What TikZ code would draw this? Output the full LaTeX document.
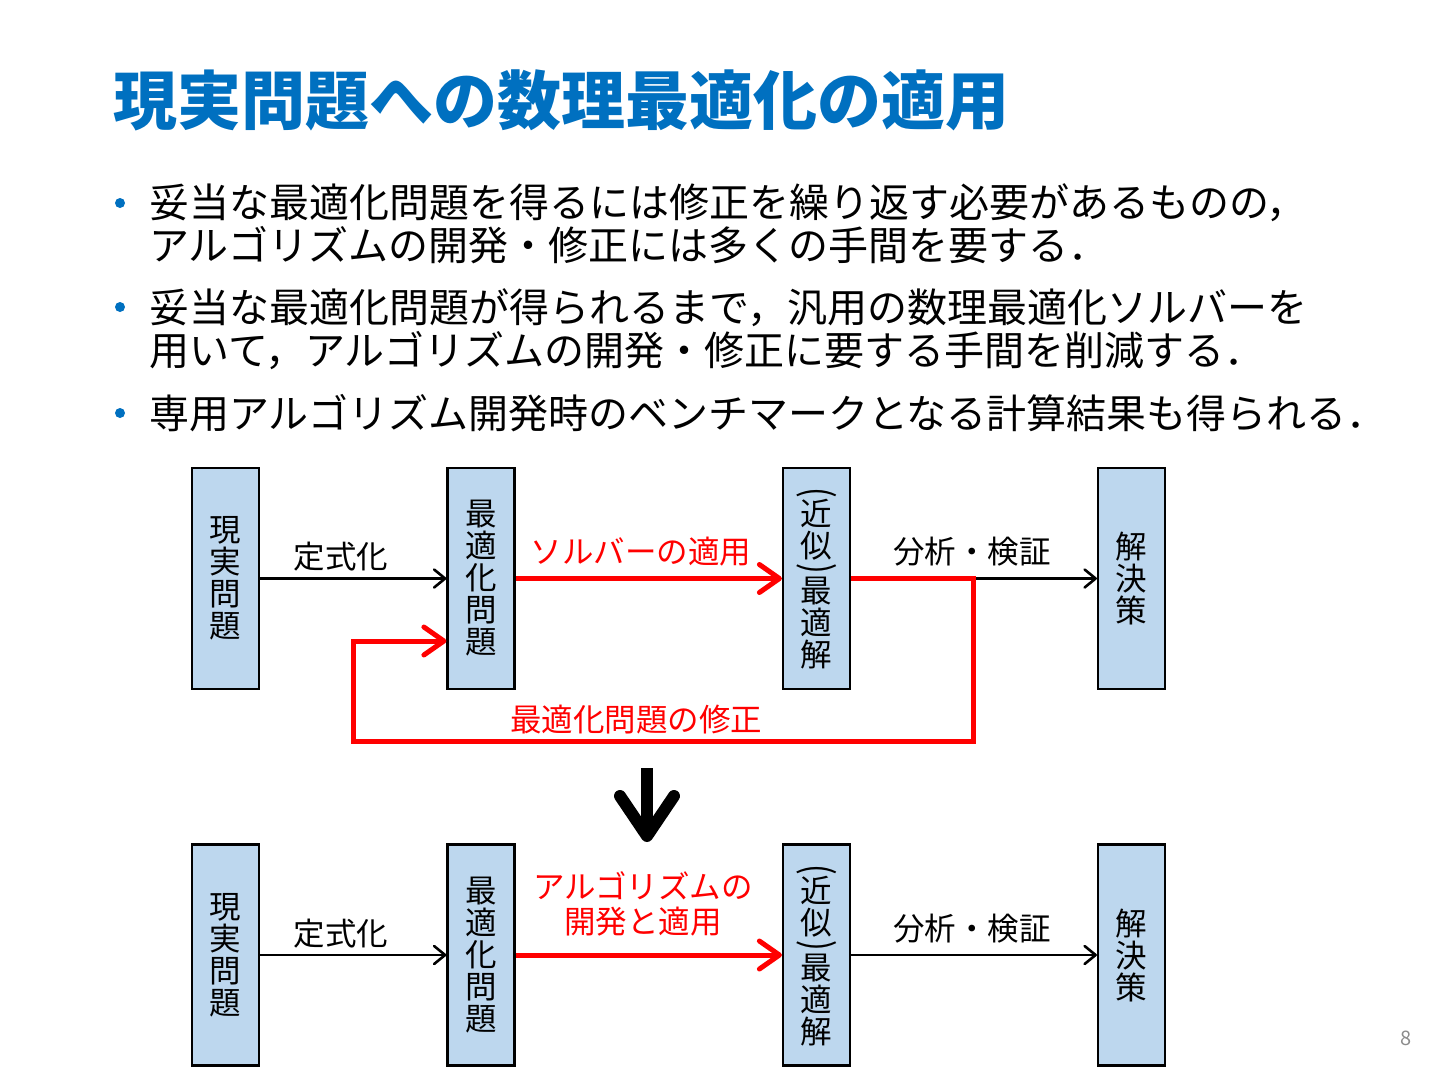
\documentclass[tikz,border=0pt]{standalone}
\usepackage{fontspec}
\usepackage{graphicx}
\setmainfont{Noto Sans CJK JP}
\usetikzlibrary{arrows.meta}
\definecolor{titleblue}{HTML}{0070C0}
\definecolor{boxblue}{HTML}{BDD7EE}
\definecolor{pnumgray}{HTML}{8C8C8C}
\newcommand\vparo{\rotatebox[origin=c]{-90}{\scalebox{1}[1.25]{(}}}
\newcommand\vparc{\rotatebox[origin=c]{-90}{\scalebox{1}[1.25]{)}}}
\begin{document}
\begin{tikzpicture}[x=1pt,y=-1pt,
  box/.style={draw=black, line width=2.2pt, fill=boxblue, minimum width=67pt, minimum height=221pt, inner sep=0pt, align=center, font=\fontsize{31.5}{32}\selectfont},
  lbl/.style={font=\fontsize{31.5}{36}\selectfont, inner sep=0pt, anchor=center},
  redlbl/.style={lbl, text=red},
  blk/.style={draw=black, line width=2.6pt, -{Straight Barb[length=11pt,width=18pt,round]}},
  redarr/.style={draw=red, line width=5pt, line join=miter, -{Straight Barb[length=20pt,width=28pt,round]}},
  bigarr/.style={draw=black, line width=12pt, -{Straight Barb[length=40pt,width=54pt,round]}},
  body/.style={font=\fontsize{40}{43}\selectfont, anchor=base west, inner sep=0pt},
  bul/.style={circle, fill=titleblue, minimum size=10pt, inner sep=0pt}
]
\fill[white] (0,0) rectangle (1440,1080);
\useasboundingbox (0,0) rectangle (1440,1080);

\node[font=\fontsize{64}{70}\selectfont\bfseries, text=titleblue, anchor=base west, inner sep=0pt] (title) at (113,124) {現実問題への数理最適化の適用};

\node[bul] (b1) at (120,203) {};
\node[body] (t1a) at (149,217) {妥当な最適化問題を得るには修正を繰り返す必要があるものの，};
\node[body] (t1b) at (149,260) {アルゴリズムの開発・修正には多くの手間を要する．};
\node[bul] (b2) at (120,307) {};
\node[body] (t2a) at (149,322) {妥当な最適化問題が得られるまで，汎用の数理最適化ソルバーを};
\node[body] (t2b) at (149,365) {用いて，アルゴリズムの開発・修正に要する手間を削減する．};
\node[bul] (b3) at (120,413) {};
\node[body] (t3) at (149,428) {専用アルゴリズム開発時のベンチマークとなる計算結果も得られる．};

% top row
\node[box] (a1) at (225.5,578.5) {現\\実\\問\\題};
\node[box] (a2) at (481,578.5) {最\\適\\化\\問\\題};
\node[box] (a3) at (816.5,578.5) {\vparo\\[-12pt]近\\似\\[-8pt]\vparc\\[-11pt]最\\適\\解};
\node[box] (a4) at (1131.5,578.5) {解\\決\\策};

\coordinate (j) at (973,578.5);
\coordinate (lb) at (353,741);
\coordinate (fb) at (353,641);

\draw[blk] (a1.east) -- (a2.west);
\draw[redarr] (a2.east) -- (a3.west);
\draw[blk] (j) -- (a4.west);
\draw[redarr] (a3.east) -- (j) |- (lb) |- (a2.west |- fb);

\node[lbl] (l1) at (341,557) {定式化};
\node[redlbl] (l2) at (641,552) {ソルバーの適用};
\node[lbl] (l3) at (972,552) {分析・検証};
\node[redlbl] (l4) at (636,720) {最適化問題の修正};

% big arrow
\coordinate (ds) at (647,768);
\coordinate (de) at (647,842);
\draw[bigarr] (ds) -- (de);

% bottom row
\node[box] (c1) at (225.5,955) {現\\実\\問\\題};
\node[box] (c2) at (481,955) {最\\適\\化\\問\\題};
\node[box] (c3) at (816.5,955) {\vparo\\[-12pt]近\\似\\[-8pt]\vparc\\[-11pt]最\\適\\解};
\node[box] (c4) at (1131.5,955) {解\\決\\策};

\draw[blk] (c1.east) -- (c2.west);
\draw[redarr] (c2.east) -- (c3.west);
\draw[blk] (c3.east) -- (c4.west);

\node[lbl] (m1) at (341,934) {定式化};
\node[redlbl] (m2) at (643,886) {アルゴリズムの};
\node[redlbl] (m3) at (643,922) {開発と適用};
\node[lbl] (m4) at (972,929) {分析・検証};

\node[font=\fontsize{20}{24}\selectfont, text=pnumgray, inner sep=0pt] (pn) at (1406,1038) {8};
\end{tikzpicture}
\end{document}
